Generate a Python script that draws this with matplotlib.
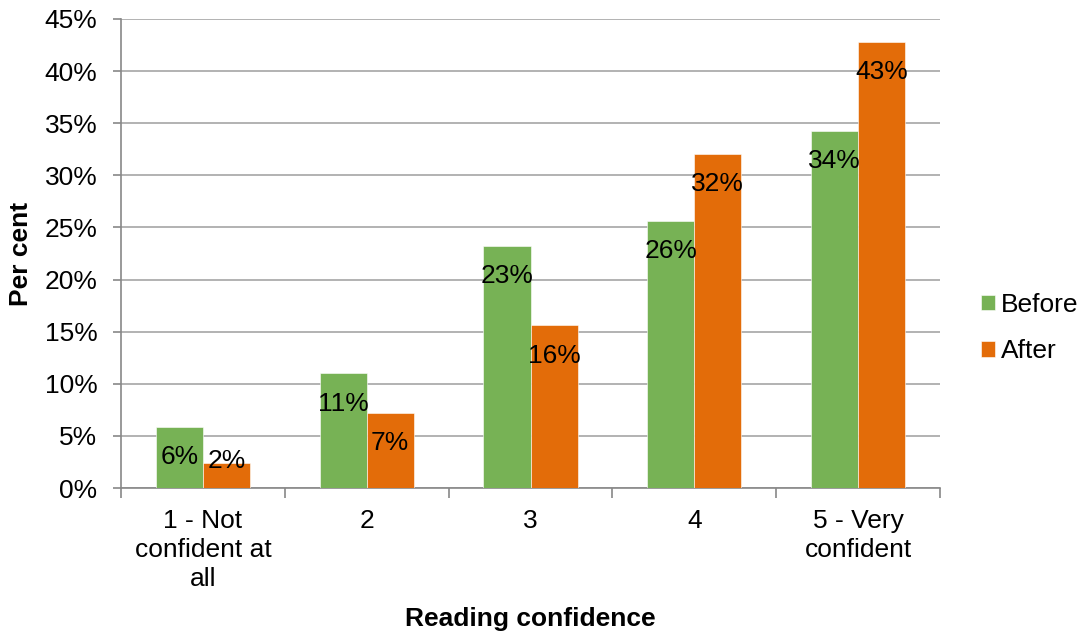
import numpy as np
import matplotlib.pyplot as plt
from matplotlib.ticker import FixedLocator, PercentFormatter

plt.rcParams['font.family'] = ['Liberation Sans', 'DejaVu Sans']

categories = ["1 - Not\nconfident at\nall", "2", "3", "4", "5 - Very\nconfident"]
before = [5.85, 11.0, 23.2, 25.6, 34.3]
after = [2.4, 7.2, 15.6, 32.05, 42.8]
series_names = ["Before", "After"]
colors = ["#77B255", "#E36C09"]

fs = 19

fig = plt.figure(figsize=(10.82, 6.34), dpi=100)
ax = fig.add_axes([121 / 1082, 1 - 488 / 634, 819 / 1082, 469 / 634])

x = np.arange(len(categories))
width = 0.287
for i, (vals, name, col) in enumerate(zip([before, after], series_names, colors)):
    pos = x + (i - 0.5) * width
    ax.bar(pos, vals, width, color=col, label=name, edgecolor="white", linewidth=0.4, zorder=3)
    for p, v in zip(pos, vals):
        ax.text(p, max(v - 2.9, 2.6), f"{v:.0f}%", ha="center", va="center",
                fontsize=fs, color="black", zorder=4)

ax.set_xlim(-0.5, len(categories) - 0.5)
ax.set_ylim(0, 45)
ax.set_yticks(np.arange(0, 46, 5))
ax.yaxis.set_major_formatter(PercentFormatter(decimals=0))
ax.set_xticks(x)
ax.set_xticklabels(categories, fontsize=fs, linespacing=1.28)
ax.xaxis.set_minor_locator(FixedLocator(np.arange(-0.5, len(categories), 1.0)))
ax.tick_params(axis="x", which="major", length=0, pad=15)
ax.tick_params(axis="x", which="minor", length=7, color="#888888", width=1.2)
ax.tick_params(axis="y", length=6, color="#888888", width=1.2, labelsize=fs, pad=11)

ax.grid(axis="y", color="#A6A6A6", linewidth=1.2, zorder=0)
for s in ["top", "right"]:
    ax.spines[s].set_visible(False)
for s in ["left", "bottom"]:
    ax.spines[s].set_color("#888888")
    ax.spines[s].set_linewidth(1.2)

ax.set_ylabel("Per cent", fontsize=fs, fontweight="bold", labelpad=8)
ax.set_xlabel("Reading confidence", fontsize=fs, fontweight="bold", labelpad=11)

fig.legend(loc="center left", bbox_to_anchor=(981 / 1082, 1 - 328 / 634), frameon=False,
           fontsize=fs, handlelength=0.52, handleheight=0.52, handletextpad=0.25,
           labelspacing=0.85, borderpad=0, borderaxespad=0)

fig.savefig("out.png", dpi=100)
